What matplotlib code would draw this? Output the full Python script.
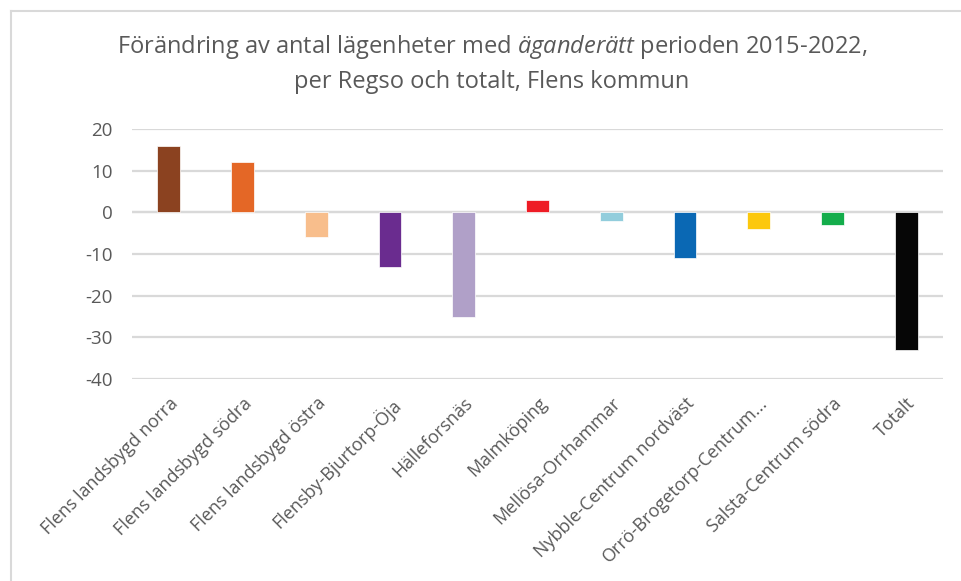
import matplotlib
matplotlib.use("Agg")
import matplotlib.pyplot as plt
from matplotlib.lines import Line2D

# Data
categories = [
    "Flens landsbygd norra", "Flens landsbygd södra", "Flens landsbygd östra",
    "Flensby-Bjurtorp-Öja", "Hälleforsnäs", "Malmköping", "Mellösa-Orrhammar",
    "Nybble-Centrum nordväst", "Orrö-Brogetorp-Centrum...", "Salsta-Centrum södra",
    "Totalt",
]
values = [16, 12, -6, -13, -25, 3, -2, -11, -4, -3, -33]
colors = ["#8B4220", "#E46726", "#F8BE8C", "#6A2C8F", "#B0A0C8", "#EE1C25",
          "#92CDDC", "#0A68B4", "#FCC80D", "#14AD4B", "#060606"]
yticks = [-40, -30, -20, -10, 0, 10, 20]

plt.rcParams["font.family"] = ["Open Sans", "DejaVu Sans"]
plt.rcParams["axes.unicode_minus"] = False
plt.rcParams["mathtext.fontset"] = "custom"
plt.rcParams["mathtext.rm"] = "Open Sans"
plt.rcParams["mathtext.it"] = "Open Sans:italic"

W, H = 962, 581
fig = plt.figure(figsize=(W / 100, H / 100), dpi=100)
ax = fig.add_axes([132 / W, 1 - 379 / H, (943 - 132) / W, (379 - 129) / H])

x = range(len(categories))
ax.bar(x, values, width=0.31, color=colors, edgecolor="white", linewidth=0.5, zorder=3)

ax.set_xlim(-0.5, len(categories) - 0.5)
ax.set_ylim(-40, 20)
ax.set_yticks(yticks)
ax.yaxis.grid(True, color="#d9d9d9", linewidth=1.6, zorder=0)
ax.axhline(0, color="#d9d9d9", linewidth=1.6, zorder=1)
for s in ax.spines.values():
    s.set_visible(False)
ax.tick_params(axis="both", length=0, colors="#595959")
ax.tick_params(axis="y", pad=14, labelsize=13.5)
ax.set_xticks(list(x))
ax.set_xticklabels(categories, rotation=45, ha="right", rotation_mode="anchor")
ax.tick_params(axis="x", pad=11, labelsize=13)

# Title
fig.text(492 / W, 1 - 47 / H,
         r"Förändring av antal lägenheter med $\mathit{äganderätt}$ perioden 2015-2022,",
         ha="center", va="center", fontsize=17, color="#595959")
fig.text(492 / W, 1 - 82 / H, "per Regso och totalt, Flens kommun",
         ha="center", va="center", fontsize=17, color="#595959")

# Chart border (partly outside the image)
fig.add_artist(Line2D([10.5 / W, 10.5 / W], [0, 1 - 10.5 / H], color="#d9d9d9", linewidth=1.5))
fig.add_artist(Line2D([10.5 / W, 1], [1 - 10.5 / H, 1 - 10.5 / H], color="#d9d9d9", linewidth=1.5))

fig.savefig("out.png", dpi=100)
